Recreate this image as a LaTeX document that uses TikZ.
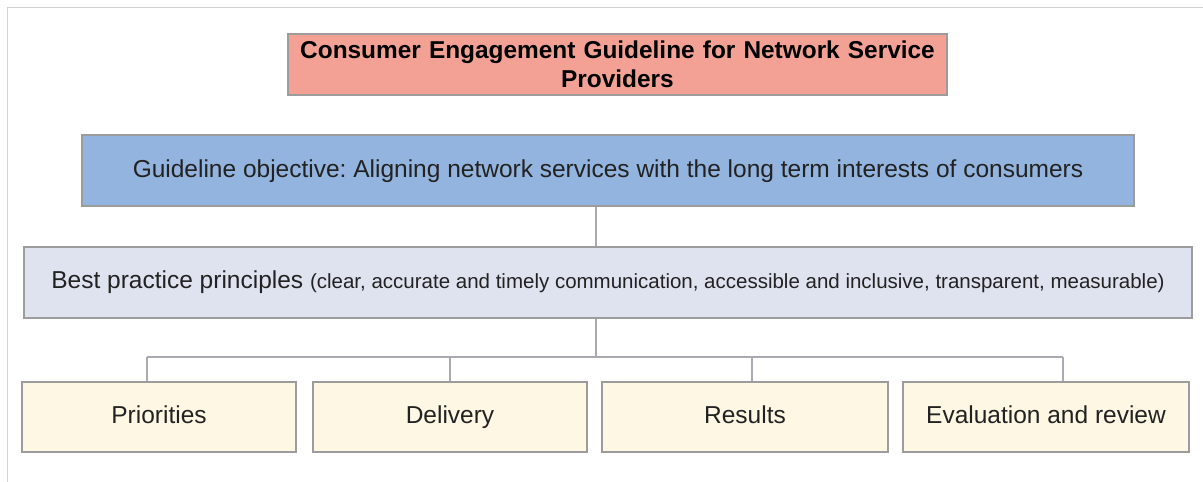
\documentclass[tikz,border=0pt]{standalone}
\usepackage{fontspec}
\setmainfont{Liberation Sans}
\frenchspacing
\definecolor{titlefill}{HTML}{F2A194}
\definecolor{goalfill}{HTML}{93B4DE}
\definecolor{rulefill}{HTML}{DFE3F0}
\definecolor{stagefill}{HTML}{FDF7E4}
\definecolor{boxline}{HTML}{9C9C9C}
\definecolor{linkline}{HTML}{A9AAB2}
\definecolor{textgray}{HTML}{222222}
\tikzset{
	box/.style={draw=boxline, line width=1.2pt, rectangle, inner sep=0pt, align=center, text=textgray},
	stagebox/.style={box, fill=stagefill, minimum height=70pt, text height=17pt, text depth=5pt, font=\fontsize{24.5}{29}\selectfont},
	link/.style={draw=linkline, line width=1.2pt}
}
\begin{document}
\begin{tikzpicture}[x=1pt, y=-1pt]
	\useasboundingbox (0,0) rectangle (1203,482);
	\draw[color=black!18, line width=1pt] (7,482) -- (7,7) -- (1203,7);

%	\coordinate (    ) at (x, y);
	\coordinate (spine) at (596, 0);
	\coordinate (bar)   at (0, 357);
	\coordinate (d1) at (147, 0);
	\coordinate (d2) at (450, 0);
	\coordinate (d3) at (752, 0);
	\coordinate (d4) at (1063, 0);

	\node[box, fill=titlefill, minimum width=659pt, minimum height=61pt, text width=659pt, font=\bfseries\fontsize{24.4}{29}\selectfont, text=black] (title) at (617.5, 64.5) {Consumer Engagement Guideline for Network Service\\Providers};
	\node[box, fill=goalfill, minimum width=1052pt, minimum height=71pt, text height=17pt, text depth=3pt, font=\fontsize{24.5}{29}\selectfont] (goal) at (608, 170.5) {Guideline objective: Aligning network services with the long term interests of consumers};
	\node[box, fill=rulefill, minimum width=1168pt, minimum height=71pt, font=\fontsize{24.5}{29}\selectfont] (rules) at (608, 282.5) {Best practice principles {\fontsize{20.5}{24}\selectfont(clear, accurate and timely communication, accessible and inclusive, transparent, measurable)}};

	\node[stagebox, minimum width=274pt] (prio)  at (159, 417)  {Priorities};
	\node[stagebox, minimum width=274pt] (deliv) at (450, 417)  {Delivery};
	\node[stagebox, minimum width=286pt] (res)   at (745, 417)  {Results};
	\node[stagebox, minimum width=286pt] (eval)  at (1046, 417) {Evaluation and review};

	% tree connectors
	\draw[link] (goal.south -| spine) -- (rules.north -| spine);
	\draw[link] (rules.south -| spine) -- (bar -| spine);
	\draw[link] (bar -| d1) -- (bar -| d4);
	\draw[link] (bar -| d1) -- (prio.north -| d1);
	\draw[link] (bar -| d2) -- (deliv.north -| d2);
	\draw[link] (bar -| d3) -- (res.north -| d3);
	\draw[link] (bar -| d4) -- (eval.north -| d4);
\end{tikzpicture}
\end{document}
